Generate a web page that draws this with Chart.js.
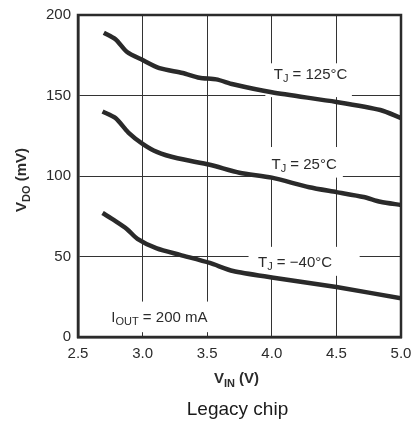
<!DOCTYPE html>
<html>
<head>
<meta charset="utf-8">
<script src="https://cdn.jsdelivr.net/npm/chart.js@4"></script>
<style>
  html, body { margin: 0; padding: 0; background: #fff; }
  #wrap { width: 414px; height: 426px; }
</style>
</head>
<body>
<div id="wrap"><canvas id="grafico" width="414" height="426"></canvas></div>
<script>
// tensao de entrada (V) e queda (mV) por temperatura
const vin125 = [2.7, 2.79, 2.88, 3.0, 3.13, 3.31, 3.44, 3.57, 3.7, 4.0, 4.5, 4.84, 5.0];
const vdo125 = [189, 185, 177, 172, 167, 164, 161, 160, 157, 152, 146, 141, 136];

const vin25 = [2.69, 2.79, 2.89, 3.0, 3.11, 3.27, 3.52, 3.75, 4.0, 4.29, 4.5, 4.71, 4.84, 5.0];
const vdo25 = [140, 136, 127, 120, 115, 111, 107, 102, 99, 93, 90, 87, 84, 82];

const vinM40 = [2.69, 2.79, 2.88, 2.96, 3.11, 3.29, 3.52, 3.7, 4.0, 4.5, 5.0];
const vdoM40 = [77, 72, 67, 61, 55, 51, 46, 41, 37, 31, 24];

const xTicks = [2.5, 3.0, 3.5, 4.0, 4.5, 5.0];
const yTicks = [0, 50, 100, 150, 200];

const fonte = '"Liberation Sans", Arial, sans-serif';
const corTexto = '#2b2b2b';

function pontos(xs, ys) {
    return xs.map((x, i) => ({ x: x, y: ys[i] }));
}

// texto com subscrito: partes = [[texto, ehSub], ...]
function textoSub(ctx, partes, x, y, tam, negrito, alinhamento) {
    const peso = negrito ? 'bold ' : '';
    let larg = 0;
    partes.forEach(p => {
        ctx.font = peso + (p[1] ? Math.round(tam * 0.75) : tam) + 'px ' + fonte;
        larg += ctx.measureText(p[0]).width;
    });
    let xi = x;
    if (alinhamento === 'center') xi = x - larg / 2;
    ctx.textBaseline = 'middle';
    ctx.textAlign = 'left';
    partes.forEach(p => {
        ctx.font = peso + (p[1] ? Math.round(tam * 0.75) : tam) + 'px ' + fonte;
        ctx.fillText(p[0], xi, p[1] ? y + tam * 0.3 : y);
        xi += ctx.measureText(p[0]).width;
    });
    return larg;
}

// rotulos sobre o grafico (valores em unidades dos eixos)
const rotulos = [
    { x: 4.3, y: 163, partes: [['T', false], ['J', true], [' = 125°C', false]], caixa: [3.95, 4.62, 149, 170] },
    { x: 4.25, y: 107, partes: [['T', false], ['J', true], [' = 25°C', false]], caixa: [3.95, 4.55, 99, 118] },
    { x: 4.18, y: 46, partes: [['T', false], ['J', true], [' = −40°C', false]], caixa: [3.82, 4.68, 38, 56] },
    { x: 3.13, y: 12, partes: [['I', false], ['OUT', true], [' = 200 mA', false]], caixa: [2.66, 3.6, 3, 22] }
];

const pluginDesenho = {
    id: 'desenho',
    beforeDatasetsDraw(chart) {
        const ctx = chart.ctx;
        const sx = chart.scales.x, sy = chart.scales.y;
        ctx.save();
        ctx.fillStyle = '#fff';
        rotulos.forEach(r => {
            const x0 = sx.getPixelForValue(r.caixa[0]);
            const x1 = sx.getPixelForValue(r.caixa[1]);
            const y0 = sy.getPixelForValue(r.caixa[3]);
            const y1 = sy.getPixelForValue(r.caixa[2]);
            ctx.fillRect(x0, y0, x1 - x0, y1 - y0);
        });
        ctx.restore();
    },
    afterDraw(chart) {
        const ctx = chart.ctx;
        const a = chart.chartArea;
        const sx = chart.scales.x, sy = chart.scales.y;
        ctx.save();
        ctx.strokeStyle = '#2b2b2b';
        ctx.lineWidth = 2.5;
        ctx.strokeRect(a.left, a.top, a.right - a.left, a.bottom - a.top);

        ctx.fillStyle = corTexto;
        rotulos.forEach(r => {
            textoSub(ctx, r.partes, sx.getPixelForValue(r.x), sy.getPixelForValue(r.y), 15, false, 'center');
        });

        // titulo do eixo x
        textoSub(ctx, [['V', false], ['IN', true], [' (V)', false]], (a.left + a.right) / 2 - 3, 379, 15, true, 'center');

        // titulo do eixo y (girado)
        ctx.save();
        ctx.translate(22, (a.top + a.bottom) / 2 + 4);
        ctx.rotate(-Math.PI / 2);
        textoSub(ctx, [['V', false], ['DO', true], [' (mV)', false]], 0, 0, 15, true, 'center');
        ctx.restore();

        // nome do grafico
        ctx.font = '19px ' + fonte;
        ctx.textAlign = 'center';
        ctx.textBaseline = 'middle';
        ctx.fillStyle = '#1a1a1a';
        ctx.fillText('Legacy chip', (a.left + a.right) / 2 - 2, 410);
        ctx.restore();
    }
};

function criarDataset(xs, ys, nome) {
    return {
        label: nome,
        data: pontos(xs, ys),
        borderColor: '#2a2a2a',
        borderWidth: 4.5,
        pointRadius: 0,
        tension: 0.25,
        fill: false
    };
}

new Chart(document.getElementById('grafico').getContext('2d'), {
    type: 'line',
    data: {
        datasets: [
            criarDataset(vin125, vdo125, 'TJ = 125°C'),
            criarDataset(vin25, vdo25, 'TJ = 25°C'),
            criarDataset(vinM40, vdoM40, 'TJ = −40°C')
        ]
    },
    options: {
        responsive: false,
        animation: false,
        layout: { padding: { top: 15, right: 13, left: 0, bottom: 0 } },
        plugins: {
            legend: { display: false },
            tooltip: { enabled: false }
        },
        scales: {
            x: {
                type: 'linear',
                min: 2.5,
                max: 5.0,
                afterBuildTicks: s => { s.ticks = xTicks.map(v => ({ value: v })); },
                afterFit: s => { s.height = 89; s.paddingLeft = 0; s.paddingRight = 0; },
                ticks: {
                    callback: v => v.toFixed(1),
                    color: corTexto,
                    font: { family: fonte, size: 15 },
                    padding: 8,
                    maxRotation: 0
                },
                grid: { color: '#333', lineWidth: 1, drawTicks: false },
                border: { color: '#2b2b2b', width: 2.5 }
            },
            y: {
                type: 'linear',
                min: 0,
                max: 200,
                afterBuildTicks: s => { s.ticks = yTicks.map(v => ({ value: v })); },
                afterFit: s => { s.width = 78; s.paddingTop = 0; s.paddingBottom = 0; },
                ticks: {
                    color: corTexto,
                    font: { family: fonte, size: 15 },
                    padding: 7
                },
                grid: { color: '#333', lineWidth: 1, drawTicks: false },
                border: { color: '#2b2b2b', width: 2.5 }
            }
        }
    },
    plugins: [pluginDesenho]
});
</script>
</body>
</html>
